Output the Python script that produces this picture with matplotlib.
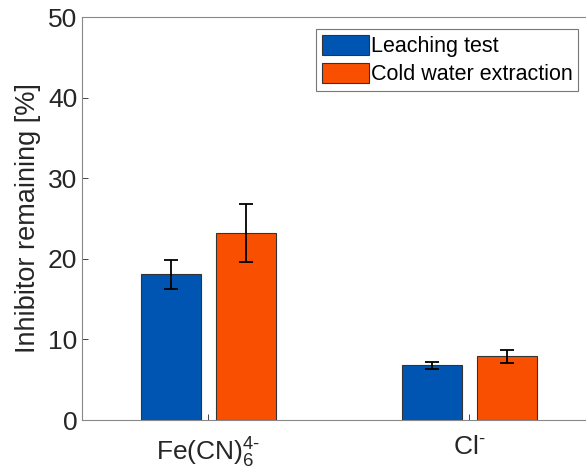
import matplotlib.pyplot as plt
import numpy as np

plt.rcParams["font.family"] = ["Liberation Sans", "DejaVu Sans"]
plt.rcParams["mathtext.fontset"] = "custom"
plt.rcParams["mathtext.rm"] = "Liberation Sans"
plt.rcParams["mathtext.it"] = "Liberation Sans"

groups = [r"Fe(CN)$_6^{4\text{-}}$", r"Cl$^{\text{-}}$"]
series = ["Leaching test", "Cold water extraction"]
leaching = [18.1, 6.8]
leaching_err = [1.8, 0.45]
cold_water = [23.2, 7.9]
cold_water_err = [3.6, 0.85]

colors = ["#0055b3", "#f94f00"]

fig = plt.figure(figsize=(5.86, 4.76), dpi=100)
ax = fig.add_axes([0.14, 0.1176, 0.86, 0.8466])

x = np.arange(1, len(groups) + 1)
width = 0.23
offset = 0.144
for i, (vals, errs, label) in enumerate(
    [(leaching, leaching_err, series[0]), (cold_water, cold_water_err, series[1])]
):
    pos = x + (i * 2 - 1) * offset
    ax.bar(pos, vals, width, color=colors[i], edgecolor="#333333",
           linewidth=0.8, label=label, zorder=2)
    ax.errorbar(pos, vals, yerr=errs, fmt="none", ecolor="black",
                elinewidth=1.3, capsize=5, capthick=1.3, zorder=3)

ax.set_xlim(0.515, 2.448)
ax.set_ylim(0, 50)
ax.set_yticks([0, 10, 20, 30, 40, 50])
ax.set_xticks(x)
ax.set_xticklabels(groups)
ax.set_ylabel("Inhibitor remaining [%]", fontsize=19.5, color="#262626",
              labelpad=5)
ax.tick_params(direction="in", labelsize=19, colors="#262626", length=4,
               width=0.6)
ax.tick_params(axis="x", pad=11)
for s in ax.spines.values():
    s.set_color("#888888")
    s.set_linewidth(0.8)
ax.spines["right"].set_visible(False)

leg = ax.legend(loc="upper right", bbox_to_anchor=(0.985, 0.97), fontsize=15.5,
                frameon=True, fancybox=False, edgecolor="#555555",
                handlelength=2.2, handleheight=1.1, handletextpad=0.1,
                borderpad=0.25, labelspacing=0.25, borderaxespad=0)
leg.get_frame().set_linewidth(0.8)

fig.savefig("out.png", dpi=100)
